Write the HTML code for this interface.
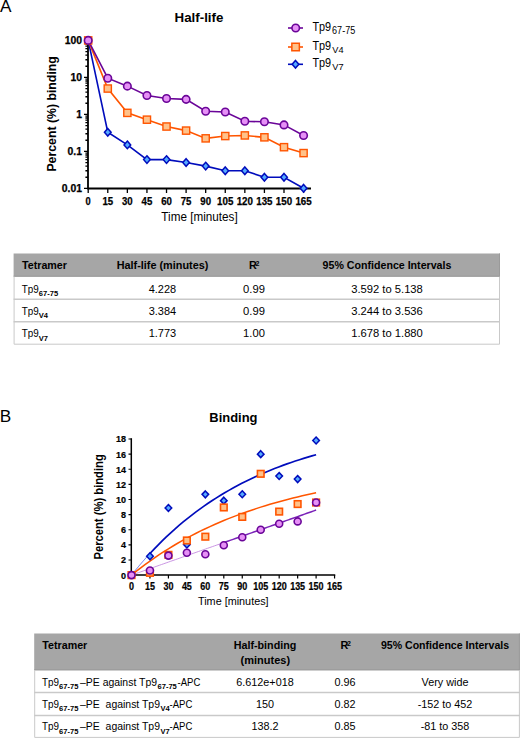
<!DOCTYPE html>
<html><head><meta charset="utf-8"><style>html,body{margin:0;padding:0;background:#fff;width:520px;height:738px;overflow:hidden}svg{display:block}text{font-family:"Liberation Sans", sans-serif}</style></head>
<body><svg width="520" height="738" viewBox="0 0 520 738">
<text x="0" y="12.3" font-size="17.2" text-anchor="start" fill="#000" >A</text>
<text x="-0.3" y="422.1" font-size="17.2" text-anchor="start" fill="#000" >B</text>
<text x="199" y="22.3" font-size="13.3" font-weight="bold" text-anchor="middle" fill="#000" >Half-life</text>
<text transform="translate(56.2 113.9) rotate(-90)" font-size="12.6" font-weight="bold" text-anchor="middle" textLength="115.4" lengthAdjust="spacingAndGlyphs">Percent (%) binding</text>
<path d="M88.0 38.5V188.5H311" fill="none" stroke="#000" stroke-width="1.8"/>
<path d="M88.20 188.5v4.5M107.78 188.5v4.5M127.36 188.5v4.5M146.94 188.5v4.5M166.52 188.5v4.5M186.10 188.5v4.5M205.68 188.5v4.5M225.26 188.5v4.5M244.84 188.5v4.5M264.42 188.5v4.5M284.00 188.5v4.5M303.58 188.5v4.5M88.0 188.40h-4M88.0 177.26h-2.6M88.0 170.75h-2.6M88.0 166.12h-2.6M88.0 162.54h-2.6M88.0 159.61h-2.6M88.0 157.13h-2.6M88.0 154.99h-2.6M88.0 153.09h-2.6M88.0 151.40h-4M88.0 140.26h-2.6M88.0 133.75h-2.6M88.0 129.12h-2.6M88.0 125.54h-2.6M88.0 122.61h-2.6M88.0 120.13h-2.6M88.0 117.99h-2.6M88.0 116.09h-2.6M88.0 114.40h-4M88.0 103.26h-2.6M88.0 96.75h-2.6M88.0 92.12h-2.6M88.0 88.54h-2.6M88.0 85.61h-2.6M88.0 83.13h-2.6M88.0 80.99h-2.6M88.0 79.09h-2.6M88.0 77.40h-4M88.0 66.26h-2.6M88.0 59.75h-2.6M88.0 55.12h-2.6M88.0 51.54h-2.6M88.0 48.61h-2.6M88.0 46.13h-2.6M88.0 43.99h-2.6M88.0 42.09h-2.6M88.0 40.40h-4" stroke="#000" stroke-width="1.3" fill="none"/>
<text x="82.0" y="44.1" font-size="10.4" font-weight="bold" text-anchor="end" fill="#000" stroke="#000" stroke-width="0.25">100</text>
<text x="82.0" y="81.10000000000001" font-size="10.4" font-weight="bold" text-anchor="end" fill="#000" stroke="#000" stroke-width="0.25">10</text>
<text x="82.0" y="118.10000000000001" font-size="10.4" font-weight="bold" text-anchor="end" fill="#000" stroke="#000" stroke-width="0.25">1</text>
<text x="82.0" y="155.1" font-size="10.4" font-weight="bold" text-anchor="end" fill="#000" stroke="#000" stroke-width="0.25">0.1</text>
<text x="82.0" y="192.1" font-size="10.4" font-weight="bold" text-anchor="end" fill="#000" stroke="#000" stroke-width="0.25">0.01</text>
<text x="88.20" y="204.6" font-size="10.4" font-weight="bold" text-anchor="middle" textLength="5.159999999999999" lengthAdjust="spacingAndGlyphs" fill="#000" stroke="#000" stroke-width="0.25">0</text>
<text x="107.78" y="204.6" font-size="10.4" font-weight="bold" text-anchor="middle" textLength="10.719999999999999" lengthAdjust="spacingAndGlyphs" fill="#000" stroke="#000" stroke-width="0.25">15</text>
<text x="127.36" y="204.6" font-size="10.4" font-weight="bold" text-anchor="middle" textLength="10.719999999999999" lengthAdjust="spacingAndGlyphs" fill="#000" stroke="#000" stroke-width="0.25">30</text>
<text x="146.94" y="204.6" font-size="10.4" font-weight="bold" text-anchor="middle" textLength="10.719999999999999" lengthAdjust="spacingAndGlyphs" fill="#000" stroke="#000" stroke-width="0.25">45</text>
<text x="166.52" y="204.6" font-size="10.4" font-weight="bold" text-anchor="middle" textLength="10.719999999999999" lengthAdjust="spacingAndGlyphs" fill="#000" stroke="#000" stroke-width="0.25">60</text>
<text x="186.10" y="204.6" font-size="10.4" font-weight="bold" text-anchor="middle" textLength="10.719999999999999" lengthAdjust="spacingAndGlyphs" fill="#000" stroke="#000" stroke-width="0.25">75</text>
<text x="205.68" y="204.6" font-size="10.4" font-weight="bold" text-anchor="middle" textLength="10.719999999999999" lengthAdjust="spacingAndGlyphs" fill="#000" stroke="#000" stroke-width="0.25">90</text>
<text x="225.26" y="204.6" font-size="10.4" font-weight="bold" text-anchor="middle" textLength="16.28" lengthAdjust="spacingAndGlyphs" fill="#000" stroke="#000" stroke-width="0.25">105</text>
<text x="244.84" y="204.6" font-size="10.4" font-weight="bold" text-anchor="middle" textLength="16.28" lengthAdjust="spacingAndGlyphs" fill="#000" stroke="#000" stroke-width="0.25">120</text>
<text x="264.42" y="204.6" font-size="10.4" font-weight="bold" text-anchor="middle" textLength="16.28" lengthAdjust="spacingAndGlyphs" fill="#000" stroke="#000" stroke-width="0.25">135</text>
<text x="284.00" y="204.6" font-size="10.4" font-weight="bold" text-anchor="middle" textLength="16.28" lengthAdjust="spacingAndGlyphs" fill="#000" stroke="#000" stroke-width="0.25">150</text>
<text x="303.58" y="204.6" font-size="10.4" font-weight="bold" text-anchor="middle" textLength="16.28" lengthAdjust="spacingAndGlyphs" fill="#000" stroke="#000" stroke-width="0.25">165</text>
<text x="199.5" y="220.5" font-size="12.3" text-anchor="middle" textLength="76.3" lengthAdjust="spacingAndGlyphs" fill="#000" >Time [minutes]</text>
<polyline points="88.20,40.40 107.78,132.21 127.36,144.88 146.94,159.61 166.52,159.61 186.10,162.54 205.68,166.12 225.26,170.75 244.84,170.75 264.42,177.26 284.00,177.26 303.58,188.24" fill="none" stroke="#000cbc" stroke-width="1.6"/>
<polyline points="88.20,40.40 107.78,88.54 127.36,112.87 146.94,119.68 166.52,126.53 186.10,130.60 205.68,138.37 225.26,136.05 244.84,135.44 264.42,137.33 284.00,147.18 303.58,153.09" fill="none" stroke="#ff5500" stroke-width="1.6"/>
<polyline points="88.20,40.40 107.78,78.22 127.36,86.15 146.94,95.46 166.52,98.44 186.10,99.36 205.68,111.20 225.26,112.02 244.84,121.32 264.42,121.82 284.00,124.91 303.58,135.44" fill="none" stroke="#6a0598" stroke-width="1.6"/>
<path d="M107.78 128.41L111.12 132.21L107.78 136.01L104.44 132.21Z" fill="#55aaff" stroke="#000cbc" stroke-width="1.5"/>
<path d="M127.36 141.08L130.70 144.88L127.36 148.68L124.02 144.88Z" fill="#55aaff" stroke="#000cbc" stroke-width="1.5"/>
<path d="M146.94 155.81L150.28 159.61L146.94 163.41L143.60 159.61Z" fill="#55aaff" stroke="#000cbc" stroke-width="1.5"/>
<path d="M166.52 155.81L169.86 159.61L166.52 163.41L163.18 159.61Z" fill="#55aaff" stroke="#000cbc" stroke-width="1.5"/>
<path d="M186.10 158.74L189.44 162.54L186.10 166.34L182.76 162.54Z" fill="#55aaff" stroke="#000cbc" stroke-width="1.5"/>
<path d="M205.68 162.32L209.02 166.12L205.68 169.92L202.34 166.12Z" fill="#55aaff" stroke="#000cbc" stroke-width="1.5"/>
<path d="M225.26 166.95L228.60 170.75L225.26 174.55L221.92 170.75Z" fill="#55aaff" stroke="#000cbc" stroke-width="1.5"/>
<path d="M244.84 166.95L248.18 170.75L244.84 174.55L241.50 170.75Z" fill="#55aaff" stroke="#000cbc" stroke-width="1.5"/>
<path d="M264.42 173.46L267.76 177.26L264.42 181.06L261.08 177.26Z" fill="#55aaff" stroke="#000cbc" stroke-width="1.5"/>
<path d="M284.00 173.46L287.34 177.26L284.00 181.06L280.66 177.26Z" fill="#55aaff" stroke="#000cbc" stroke-width="1.5"/>
<path d="M303.58 184.44L306.92 188.24L303.58 192.04L300.24 188.24Z" fill="#55aaff" stroke="#000cbc" stroke-width="1.5"/>
<rect x="84.60" y="36.80" width="7.2" height="7.2" fill="#ffc28a" stroke="#ff5500" stroke-width="1.4"/>
<rect x="104.18" y="84.94" width="7.2" height="7.2" fill="#ffc28a" stroke="#ff5500" stroke-width="1.4"/>
<rect x="123.76" y="109.27" width="7.2" height="7.2" fill="#ffc28a" stroke="#ff5500" stroke-width="1.4"/>
<rect x="143.34" y="116.08" width="7.2" height="7.2" fill="#ffc28a" stroke="#ff5500" stroke-width="1.4"/>
<rect x="162.92" y="122.93" width="7.2" height="7.2" fill="#ffc28a" stroke="#ff5500" stroke-width="1.4"/>
<rect x="182.50" y="127.00" width="7.2" height="7.2" fill="#ffc28a" stroke="#ff5500" stroke-width="1.4"/>
<rect x="202.08" y="134.77" width="7.2" height="7.2" fill="#ffc28a" stroke="#ff5500" stroke-width="1.4"/>
<rect x="221.66" y="132.45" width="7.2" height="7.2" fill="#ffc28a" stroke="#ff5500" stroke-width="1.4"/>
<rect x="241.24" y="131.84" width="7.2" height="7.2" fill="#ffc28a" stroke="#ff5500" stroke-width="1.4"/>
<rect x="260.82" y="133.73" width="7.2" height="7.2" fill="#ffc28a" stroke="#ff5500" stroke-width="1.4"/>
<rect x="280.40" y="143.58" width="7.2" height="7.2" fill="#ffc28a" stroke="#ff5500" stroke-width="1.4"/>
<rect x="299.98" y="149.49" width="7.2" height="7.2" fill="#ffc28a" stroke="#ff5500" stroke-width="1.4"/>
<circle cx="88.20" cy="40.40" r="3.75" fill="#e690f6" stroke="#6a0598" stroke-width="1.6"/>
<circle cx="107.78" cy="78.22" r="3.75" fill="#e690f6" stroke="#6a0598" stroke-width="1.6"/>
<circle cx="127.36" cy="86.15" r="3.75" fill="#e690f6" stroke="#6a0598" stroke-width="1.6"/>
<circle cx="146.94" cy="95.46" r="3.75" fill="#e690f6" stroke="#6a0598" stroke-width="1.6"/>
<circle cx="166.52" cy="98.44" r="3.75" fill="#e690f6" stroke="#6a0598" stroke-width="1.6"/>
<circle cx="186.10" cy="99.36" r="3.75" fill="#e690f6" stroke="#6a0598" stroke-width="1.6"/>
<circle cx="205.68" cy="111.20" r="3.75" fill="#e690f6" stroke="#6a0598" stroke-width="1.6"/>
<circle cx="225.26" cy="112.02" r="3.75" fill="#e690f6" stroke="#6a0598" stroke-width="1.6"/>
<circle cx="244.84" cy="121.32" r="3.75" fill="#e690f6" stroke="#6a0598" stroke-width="1.6"/>
<circle cx="264.42" cy="121.82" r="3.75" fill="#e690f6" stroke="#6a0598" stroke-width="1.6"/>
<circle cx="284.00" cy="124.91" r="3.75" fill="#e690f6" stroke="#6a0598" stroke-width="1.6"/>
<circle cx="303.58" cy="135.44" r="3.75" fill="#e690f6" stroke="#6a0598" stroke-width="1.6"/>
<path d="M288 28H303" stroke="#6a0598" stroke-width="1.6"/>
<circle cx="295.70" cy="28.00" r="3.75" fill="#e690f6" stroke="#6a0598" stroke-width="1.6"/>
<path d="M288 47H303" stroke="#ff5500" stroke-width="1.6"/>
<rect x="291.85" y="43.25" width="7.5" height="7.5" fill="#ffc28a" stroke="#ff5500" stroke-width="1.5"/>
<path d="M288 64.3H303" stroke="#000cbc" stroke-width="1.6"/>
<path d="M295.50 60.50L298.84 64.30L295.50 68.10L292.16 64.30Z" fill="#55aaff" stroke="#000cbc" stroke-width="1.5"/>
<text x="312.4" y="30.8" font-size="12" text-anchor="start" textLength="18.7" lengthAdjust="spacingAndGlyphs" fill="#000" >Tp9</text>
<text x="332.1" y="33.7" font-size="10" text-anchor="start" textLength="23.1" lengthAdjust="spacingAndGlyphs" fill="#000" >67-75</text>
<text x="312.4" y="49.6" font-size="12" text-anchor="start" textLength="18.7" lengthAdjust="spacingAndGlyphs" fill="#000" >Tp9</text>
<text x="332.3" y="52.5" font-size="9.6" text-anchor="start" textLength="11.3" lengthAdjust="spacingAndGlyphs" fill="#000" >V4</text>
<text x="312.4" y="67.0" font-size="12" text-anchor="start" textLength="18.7" lengthAdjust="spacingAndGlyphs" fill="#000" >Tp9</text>
<text x="332.3" y="69.9" font-size="9.6" text-anchor="start" textLength="11.3" lengthAdjust="spacingAndGlyphs" fill="#000" >V7</text>
<rect x="13.6" y="253.5" width="486.4" height="23.2" fill="#a6a6a6"/>
<path d="M13.6 276.2H500M499.5 253.5V276.7" stroke="#9a9a9a" stroke-width="1"/>
<path d="M13.6 299.2H500" stroke="#c9c9c9" stroke-width="1.5"/>
<path d="M13.6 321.7H500" stroke="#c9c9c9" stroke-width="1.5"/>
<path d="M14.1 276.7V344.2H499.5V276.7" fill="none" stroke="#c9c9c9" stroke-width="1"/>
<text x="22" y="268.8" font-size="10.8" font-weight="bold" text-anchor="start" textLength="45" lengthAdjust="spacingAndGlyphs" fill="#000" >Tetramer</text>
<text x="162.5" y="268.8" font-size="10.8" font-weight="bold" text-anchor="middle" textLength="91.7" lengthAdjust="spacingAndGlyphs" fill="#000" >Half-life (minutes)</text>
<text x="249" y="268.8" font-size="10.8" font-weight="bold" text-anchor="start" fill="#000" >R</text>
<text x="255.6" y="265.6" font-size="7" font-weight="bold" text-anchor="start" fill="#000" >2</text>
<text x="387" y="268.8" font-size="10.8" font-weight="bold" text-anchor="middle" textLength="128.8" lengthAdjust="spacingAndGlyphs" fill="#000" >95% Confidence Intervals</text>
<text x="21.8" y="292.6" font-size="10.6" text-anchor="start" textLength="17" lengthAdjust="spacingAndGlyphs" fill="#000" >Tp9</text>
<text x="38.8" y="295.8" font-size="7.2" font-weight="bold" text-anchor="start" textLength="19.3" lengthAdjust="spacingAndGlyphs" fill="#000" >67-75</text>
<text x="162.4" y="292.6" font-size="10.8" text-anchor="middle" textLength="27.5" lengthAdjust="spacingAndGlyphs" fill="#000" >4.228</text>
<text x="254" y="292.6" font-size="10.8" text-anchor="middle" textLength="21.8" lengthAdjust="spacingAndGlyphs" fill="#000" >0.99</text>
<text x="387" y="292.6" font-size="10.8" text-anchor="middle" textLength="71.7" lengthAdjust="spacingAndGlyphs" fill="#000" >3.592 to 5.138</text>
<text x="21.8" y="314.9" font-size="10.6" text-anchor="start" textLength="17" lengthAdjust="spacingAndGlyphs" fill="#000" >Tp9</text>
<text x="38.8" y="318.09999999999997" font-size="7.2" font-weight="bold" text-anchor="start" textLength="9.2" lengthAdjust="spacingAndGlyphs" fill="#000" >V4</text>
<text x="162.4" y="314.9" font-size="10.8" text-anchor="middle" textLength="27.5" lengthAdjust="spacingAndGlyphs" fill="#000" >3.384</text>
<text x="254" y="314.9" font-size="10.8" text-anchor="middle" textLength="21.8" lengthAdjust="spacingAndGlyphs" fill="#000" >0.99</text>
<text x="387" y="314.9" font-size="10.8" text-anchor="middle" textLength="71.7" lengthAdjust="spacingAndGlyphs" fill="#000" >3.244 to 3.536</text>
<text x="21.8" y="337.4" font-size="10.6" text-anchor="start" textLength="17" lengthAdjust="spacingAndGlyphs" fill="#000" >Tp9</text>
<text x="38.8" y="340.59999999999997" font-size="7.2" font-weight="bold" text-anchor="start" textLength="9.2" lengthAdjust="spacingAndGlyphs" fill="#000" >V7</text>
<text x="162.4" y="337.4" font-size="10.8" text-anchor="middle" textLength="27.5" lengthAdjust="spacingAndGlyphs" fill="#000" >1.773</text>
<text x="254" y="337.4" font-size="10.8" text-anchor="middle" textLength="21.8" lengthAdjust="spacingAndGlyphs" fill="#000" >1.00</text>
<text x="387" y="337.4" font-size="10.8" text-anchor="middle" textLength="71.7" lengthAdjust="spacingAndGlyphs" fill="#000" >1.678 to 1.880</text>
<text x="233.4" y="422.0" font-size="13" font-weight="bold" text-anchor="middle" textLength="48.2" lengthAdjust="spacingAndGlyphs" fill="#000" >Binding</text>
<text transform="translate(103.0 506.9) rotate(-90)" font-size="12" font-weight="bold" text-anchor="middle" textLength="105.4" lengthAdjust="spacingAndGlyphs">Percent (%) binding</text>
<path d="M131.3 438.32V575.1H335.26" fill="none" stroke="#000" stroke-width="1.5"/>
<path d="M131.50 575.1v3.5M149.96 575.1v3.5M168.42 575.1v3.5M186.88 575.1v3.5M205.34 575.1v3.5M223.80 575.1v3.5M242.26 575.1v3.5M260.72 575.1v3.5M279.18 575.1v3.5M297.64 575.1v3.5M316.10 575.1v3.5M334.56 575.1v3.5M131.5 575.10h-3M131.5 559.98h-3M131.5 544.86h-3M131.5 529.74h-3M131.5 514.62h-3M131.5 499.50h-3M131.5 484.38h-3M131.5 469.26h-3M131.5 454.14h-3M131.5 439.02h-3" stroke="#000" stroke-width="1.2" fill="none"/>
<text x="125.9" y="578.55" font-size="9.8" font-weight="bold" text-anchor="end" textLength="5.0" lengthAdjust="spacingAndGlyphs" fill="#000" stroke="#000" stroke-width="0.22">0</text>
<text x="125.9" y="563.43" font-size="9.8" font-weight="bold" text-anchor="end" textLength="5.0" lengthAdjust="spacingAndGlyphs" fill="#000" stroke="#000" stroke-width="0.22">2</text>
<text x="125.9" y="548.31" font-size="9.8" font-weight="bold" text-anchor="end" textLength="5.0" lengthAdjust="spacingAndGlyphs" fill="#000" stroke="#000" stroke-width="0.22">4</text>
<text x="125.9" y="533.19" font-size="9.8" font-weight="bold" text-anchor="end" textLength="5.0" lengthAdjust="spacingAndGlyphs" fill="#000" stroke="#000" stroke-width="0.22">6</text>
<text x="125.9" y="518.07" font-size="9.8" font-weight="bold" text-anchor="end" textLength="5.0" lengthAdjust="spacingAndGlyphs" fill="#000" stroke="#000" stroke-width="0.22">8</text>
<text x="125.9" y="502.95" font-size="9.8" font-weight="bold" text-anchor="end" textLength="10.0" lengthAdjust="spacingAndGlyphs" fill="#000" stroke="#000" stroke-width="0.22">10</text>
<text x="125.9" y="487.83" font-size="9.8" font-weight="bold" text-anchor="end" textLength="10.0" lengthAdjust="spacingAndGlyphs" fill="#000" stroke="#000" stroke-width="0.22">12</text>
<text x="125.9" y="472.71" font-size="9.8" font-weight="bold" text-anchor="end" textLength="10.0" lengthAdjust="spacingAndGlyphs" fill="#000" stroke="#000" stroke-width="0.22">14</text>
<text x="125.9" y="457.59" font-size="9.8" font-weight="bold" text-anchor="end" textLength="10.0" lengthAdjust="spacingAndGlyphs" fill="#000" stroke="#000" stroke-width="0.22">16</text>
<text x="125.9" y="442.47" font-size="9.8" font-weight="bold" text-anchor="end" textLength="10.0" lengthAdjust="spacingAndGlyphs" fill="#000" stroke="#000" stroke-width="0.22">18</text>
<text x="131.50" y="590.3" font-size="10" font-weight="bold" text-anchor="middle" textLength="5.0" lengthAdjust="spacingAndGlyphs" fill="#000" stroke="#000" stroke-width="0.22">0</text>
<text x="149.96" y="590.3" font-size="10" font-weight="bold" text-anchor="middle" textLength="10.0" lengthAdjust="spacingAndGlyphs" fill="#000" stroke="#000" stroke-width="0.22">15</text>
<text x="168.42" y="590.3" font-size="10" font-weight="bold" text-anchor="middle" textLength="10.0" lengthAdjust="spacingAndGlyphs" fill="#000" stroke="#000" stroke-width="0.22">30</text>
<text x="186.88" y="590.3" font-size="10" font-weight="bold" text-anchor="middle" textLength="10.0" lengthAdjust="spacingAndGlyphs" fill="#000" stroke="#000" stroke-width="0.22">45</text>
<text x="205.34" y="590.3" font-size="10" font-weight="bold" text-anchor="middle" textLength="10.0" lengthAdjust="spacingAndGlyphs" fill="#000" stroke="#000" stroke-width="0.22">60</text>
<text x="223.80" y="590.3" font-size="10" font-weight="bold" text-anchor="middle" textLength="10.0" lengthAdjust="spacingAndGlyphs" fill="#000" stroke="#000" stroke-width="0.22">75</text>
<text x="242.26" y="590.3" font-size="10" font-weight="bold" text-anchor="middle" textLength="10.0" lengthAdjust="spacingAndGlyphs" fill="#000" stroke="#000" stroke-width="0.22">90</text>
<text x="260.72" y="590.3" font-size="10" font-weight="bold" text-anchor="middle" textLength="15.0" lengthAdjust="spacingAndGlyphs" fill="#000" stroke="#000" stroke-width="0.22">105</text>
<text x="279.18" y="590.3" font-size="10" font-weight="bold" text-anchor="middle" textLength="15.0" lengthAdjust="spacingAndGlyphs" fill="#000" stroke="#000" stroke-width="0.22">120</text>
<text x="297.64" y="590.3" font-size="10" font-weight="bold" text-anchor="middle" textLength="15.0" lengthAdjust="spacingAndGlyphs" fill="#000" stroke="#000" stroke-width="0.22">135</text>
<text x="316.10" y="590.3" font-size="10" font-weight="bold" text-anchor="middle" textLength="15.0" lengthAdjust="spacingAndGlyphs" fill="#000" stroke="#000" stroke-width="0.22">150</text>
<text x="334.56" y="590.3" font-size="10" font-weight="bold" text-anchor="middle" textLength="15.0" lengthAdjust="spacingAndGlyphs" fill="#000" stroke="#000" stroke-width="0.22">165</text>
<text x="233.3" y="604.7" font-size="11.3" text-anchor="middle" textLength="70.6" lengthAdjust="spacingAndGlyphs" fill="#000" >Time [minutes]</text>
<polyline points="131.50,575.10 131.96,574.52 132.42,573.94 132.88,573.37 133.35,572.79 133.81,572.22 134.27,571.65 134.73,571.08 135.19,570.52 135.65,569.96 136.12,569.40 136.58,568.84 137.04,568.28 137.50,567.73 137.96,567.17 138.42,566.62 138.88,566.07 139.35,565.53 139.81,564.98 140.27,564.44 140.73,563.90 141.19,563.36 141.65,562.83 142.11,562.29 142.58,561.76 143.04,561.23 143.50,560.70 143.96,560.18 144.42,559.65 144.88,559.13 145.34,558.61 145.81,558.09 146.27,557.57 146.73,557.06 147.19,556.55 147.65,556.04 148.11,555.53 148.58,555.02 149.04,554.52 149.50,554.01 149.96,553.51" fill="none" stroke="#3a4ee0" stroke-width="0.8"/>
<polyline points="149.96,553.51 154.11,549.09 158.27,544.81 162.42,540.67 166.57,536.67 170.73,532.80 174.88,529.06 179.03,525.44 183.19,521.95 187.34,518.57 191.50,515.30 195.65,512.14 199.80,509.09 203.96,506.14 208.11,503.28 212.26,500.52 216.42,497.85 220.57,495.27 224.72,492.78 228.88,490.37 233.03,488.04 237.18,485.78 241.34,483.60 245.49,481.50 249.64,479.46 253.80,477.49 257.95,475.59 262.10,473.75 266.26,471.97 270.41,470.25 274.56,468.58 278.72,466.97 282.87,465.42 287.03,463.92 291.18,462.46 295.33,461.06 299.49,459.70 303.64,458.39 307.79,457.12 311.95,455.89 316.10,454.70" fill="none" stroke="#000cbc" stroke-width="1.7"/>
<polyline points="131.50,575.10 136.12,571.41 140.73,567.85 145.34,564.40 149.96,561.07 154.57,557.84 159.19,554.73 163.81,551.72 168.42,548.80 173.03,545.99 177.65,543.27 182.26,540.63 186.88,538.09 191.50,535.63 196.11,533.25 200.72,530.95 205.34,528.73 209.95,526.58 214.57,524.50 219.19,522.49 223.80,520.55 228.42,518.67 233.03,516.86 237.65,515.10 242.26,513.41 246.88,511.77 251.49,510.18 256.11,508.65 260.72,507.16 265.34,505.73 269.95,504.34 274.56,503.00 279.18,501.71 283.80,500.46 288.41,499.24 293.02,498.07 297.64,496.94 302.25,495.85 306.87,494.79 311.49,493.77 316.10,492.78" fill="none" stroke="#ff5500" stroke-width="1.5"/>
<polyline points="131.50,575.10 133.81,574.29 136.12,573.47 138.42,572.66 140.73,571.85 143.04,571.04 145.34,570.22 147.65,569.41 149.96,568.60 152.27,567.79 154.57,566.97 156.88,566.16 159.19,565.35 161.50,564.53 163.81,563.72 166.11,562.91 168.42,562.10 170.73,561.28 173.03,560.47 175.34,559.66 177.65,558.85 179.96,558.03 182.26,557.22 184.57,556.41 186.88,555.60 189.19,554.78 191.50,553.97 193.80,553.16 196.11,552.34 198.42,551.53 200.72,550.72 203.03,549.91 205.34,549.09 207.65,548.28 209.95,547.47 212.26,546.66 214.57,545.84 216.88,545.03 219.19,544.22 221.49,543.40 223.80,542.59" fill="none" stroke="#c48ae0" stroke-width="0.9"/>
<polyline points="223.80,542.59 226.11,541.78 228.42,540.97 230.72,540.15 233.03,539.34 235.34,538.53 237.65,537.72 239.95,536.90 242.26,536.09 244.57,535.28 246.88,534.47 249.18,533.65 251.49,532.84 253.80,532.03 256.11,531.21 258.41,530.40 260.72,529.59 263.03,528.78 265.34,527.96 267.64,527.15 269.95,526.34 272.26,525.53 274.56,524.71 276.87,523.90 279.18,523.09 281.49,522.27 283.80,521.46 286.10,520.65 288.41,519.84 290.72,519.02 293.02,518.21 295.33,517.40 297.64,516.59 299.95,515.77 302.25,514.96 304.56,514.15 306.87,513.33 309.18,512.52 311.49,511.71 313.79,510.90 316.10,510.08" fill="none" stroke="#7a22b8" stroke-width="1.5"/>
<path d="M149.96 552.75L153.26 556.20L149.96 559.65L146.66 556.20Z" fill="#55aaff" stroke="#000cbc" stroke-width="1.5"/>
<path d="M168.42 504.52L171.72 507.97L168.42 511.42L165.12 507.97Z" fill="#55aaff" stroke="#000cbc" stroke-width="1.5"/>
<path d="M186.88 541.03L190.18 544.48L186.88 547.93L183.58 544.48Z" fill="#55aaff" stroke="#000cbc" stroke-width="1.5"/>
<path d="M205.34 490.91L208.64 494.36L205.34 497.81L202.04 494.36Z" fill="#55aaff" stroke="#000cbc" stroke-width="1.5"/>
<path d="M223.80 497.18L227.10 500.63L223.80 504.08L220.50 500.63Z" fill="#55aaff" stroke="#000cbc" stroke-width="1.5"/>
<path d="M242.26 490.76L245.56 494.21L242.26 497.66L238.96 494.21Z" fill="#55aaff" stroke="#000cbc" stroke-width="1.5"/>
<path d="M260.72 450.69L264.02 454.14L260.72 457.59L257.42 454.14Z" fill="#55aaff" stroke="#000cbc" stroke-width="1.5"/>
<path d="M279.18 472.61L282.48 476.06L279.18 479.51L275.88 476.06Z" fill="#55aaff" stroke="#000cbc" stroke-width="1.5"/>
<path d="M297.64 475.64L300.94 479.09L297.64 482.54L294.34 479.09Z" fill="#55aaff" stroke="#000cbc" stroke-width="1.5"/>
<path d="M316.10 437.08L319.40 440.53L316.10 443.98L312.80 440.53Z" fill="#55aaff" stroke="#000cbc" stroke-width="1.5"/>
<rect x="128.20" y="571.80" width="6.6" height="6.6" fill="#ffc28a" stroke="#ff5500" stroke-width="1.6"/>
<rect x="146.66" y="569.53" width="6.6" height="6.6" fill="#ffc28a" stroke="#ff5500" stroke-width="1.6"/>
<rect x="165.12" y="551.54" width="6.6" height="6.6" fill="#ffc28a" stroke="#ff5500" stroke-width="1.6"/>
<rect x="183.58" y="537.18" width="6.6" height="6.6" fill="#ffc28a" stroke="#ff5500" stroke-width="1.6"/>
<rect x="202.04" y="533.40" width="6.6" height="6.6" fill="#ffc28a" stroke="#ff5500" stroke-width="1.6"/>
<rect x="220.50" y="504.14" width="6.6" height="6.6" fill="#ffc28a" stroke="#ff5500" stroke-width="1.6"/>
<rect x="238.96" y="513.59" width="6.6" height="6.6" fill="#ffc28a" stroke="#ff5500" stroke-width="1.6"/>
<rect x="257.42" y="470.50" width="6.6" height="6.6" fill="#ffc28a" stroke="#ff5500" stroke-width="1.6"/>
<rect x="275.88" y="508.30" width="6.6" height="6.6" fill="#ffc28a" stroke="#ff5500" stroke-width="1.6"/>
<rect x="294.34" y="500.74" width="6.6" height="6.6" fill="#ffc28a" stroke="#ff5500" stroke-width="1.6"/>
<rect x="312.80" y="499.22" width="6.6" height="6.6" fill="#ffc28a" stroke="#ff5500" stroke-width="1.6"/>
<circle cx="131.50" cy="575.10" r="3.5" fill="#e690f6" stroke="#6a0598" stroke-width="1.6"/>
<circle cx="149.96" cy="570.56" r="3.5" fill="#e690f6" stroke="#6a0598" stroke-width="1.6"/>
<circle cx="168.42" cy="555.60" r="3.5" fill="#e690f6" stroke="#6a0598" stroke-width="1.6"/>
<circle cx="186.88" cy="552.72" r="3.5" fill="#e690f6" stroke="#6a0598" stroke-width="1.6"/>
<circle cx="205.34" cy="554.31" r="3.5" fill="#e690f6" stroke="#6a0598" stroke-width="1.6"/>
<circle cx="223.80" cy="545.24" r="3.5" fill="#e690f6" stroke="#6a0598" stroke-width="1.6"/>
<circle cx="242.26" cy="537.30" r="3.5" fill="#e690f6" stroke="#6a0598" stroke-width="1.6"/>
<circle cx="260.72" cy="529.74" r="3.5" fill="#e690f6" stroke="#6a0598" stroke-width="1.6"/>
<circle cx="279.18" cy="523.69" r="3.5" fill="#e690f6" stroke="#6a0598" stroke-width="1.6"/>
<circle cx="297.64" cy="521.42" r="3.5" fill="#e690f6" stroke="#6a0598" stroke-width="1.6"/>
<circle cx="316.10" cy="502.52" r="3.5" fill="#e690f6" stroke="#6a0598" stroke-width="1.6"/>
<rect x="34.2" y="633.5" width="485.7" height="36.8" fill="#a6a6a6"/>
<path d="M34.2 669.8H519.9M519.4 633.5V670.3" stroke="#9a9a9a" stroke-width="1"/>
<path d="M34.2 692.5H519.9" stroke="#c9c9c9" stroke-width="1.5"/>
<path d="M34.2 715.5H519.9" stroke="#c9c9c9" stroke-width="1.5"/>
<path d="M34.7 670.3V737.4H519.4V670.3" fill="none" stroke="#c9c9c9" stroke-width="1"/>
<text x="42.3" y="648.8" font-size="10.8" font-weight="bold" text-anchor="start" textLength="45" lengthAdjust="spacingAndGlyphs" fill="#000" >Tetramer</text>
<text x="265" y="649" font-size="10.8" font-weight="bold" text-anchor="middle" textLength="62.6" lengthAdjust="spacingAndGlyphs" fill="#000" >Half-binding</text>
<text x="265.3" y="663.6" font-size="10.8" font-weight="bold" text-anchor="middle" textLength="49.5" lengthAdjust="spacingAndGlyphs" fill="#000" >(minutes)</text>
<text x="340.5" y="649" font-size="10.8" font-weight="bold" text-anchor="start" fill="#000" >R</text>
<text x="347.1" y="645.8" font-size="7" font-weight="bold" text-anchor="start" fill="#000" >2</text>
<text x="445" y="649" font-size="10.8" font-weight="bold" text-anchor="middle" textLength="128.2" lengthAdjust="spacingAndGlyphs" fill="#000" >95% Confidence Intervals</text>
<text x="42.1" y="685.5" font-size="10.6" text-anchor="start" textLength="17" lengthAdjust="spacingAndGlyphs" fill="#000" >Tp9</text>
<text x="59.1" y="688.7" font-size="7.2" font-weight="bold" text-anchor="start" textLength="19.3" lengthAdjust="spacingAndGlyphs" fill="#000" >67-75</text>
<text x="80" y="685.5" font-size="10.6" text-anchor="start" textLength="77" lengthAdjust="spacingAndGlyphs" fill="#000" >&#8211;PE against Tp9</text>
<text x="157.5" y="688.7" font-size="7.2" font-weight="bold" text-anchor="start" textLength="19.3" lengthAdjust="spacingAndGlyphs" fill="#000" >67-75</text>
<text x="177.5" y="685.5" font-size="10.6" text-anchor="start" textLength="22.8" lengthAdjust="spacingAndGlyphs" fill="#000" >-APC</text>
<text x="265" y="685.5" font-size="10.8" text-anchor="middle" fill="#000" >6.612e+018</text>
<text x="345" y="685.5" font-size="10.8" text-anchor="middle" fill="#000" >0.96</text>
<text x="445" y="685.5" font-size="10.8" text-anchor="middle" fill="#000" >Very wide</text>
<text x="42.1" y="707.8" font-size="10.6" text-anchor="start" textLength="17" lengthAdjust="spacingAndGlyphs" fill="#000" >Tp9</text>
<text x="59.1" y="711.0" font-size="7.2" font-weight="bold" text-anchor="start" textLength="19.3" lengthAdjust="spacingAndGlyphs" fill="#000" >67-75</text>
<text x="80" y="707.8" font-size="10.6" text-anchor="start" textLength="80" lengthAdjust="spacingAndGlyphs" fill="#000" >&#8211;PE&#160; against Tp9</text>
<text x="160.5" y="711.0" font-size="7.2" font-weight="bold" text-anchor="start" textLength="9.2" lengthAdjust="spacingAndGlyphs" fill="#000" >V4</text>
<text x="169.5" y="707.8" font-size="10.6" text-anchor="start" textLength="22.8" lengthAdjust="spacingAndGlyphs" fill="#000" >-APC</text>
<text x="265" y="707.8" font-size="10.8" text-anchor="middle" fill="#000" >150</text>
<text x="345" y="707.8" font-size="10.8" text-anchor="middle" fill="#000" >0.82</text>
<text x="445" y="707.8" font-size="10.8" text-anchor="middle" fill="#000" >-152 to 452</text>
<text x="42.1" y="730.4" font-size="10.6" text-anchor="start" textLength="17" lengthAdjust="spacingAndGlyphs" fill="#000" >Tp9</text>
<text x="59.1" y="733.6" font-size="7.2" font-weight="bold" text-anchor="start" textLength="19.3" lengthAdjust="spacingAndGlyphs" fill="#000" >67-75</text>
<text x="80" y="730.4" font-size="10.6" text-anchor="start" textLength="80" lengthAdjust="spacingAndGlyphs" fill="#000" >&#8211;PE&#160; against Tp9</text>
<text x="160.5" y="733.6" font-size="7.2" font-weight="bold" text-anchor="start" textLength="9.2" lengthAdjust="spacingAndGlyphs" fill="#000" >V7</text>
<text x="169.5" y="730.4" font-size="10.6" text-anchor="start" textLength="22.8" lengthAdjust="spacingAndGlyphs" fill="#000" >-APC</text>
<text x="265" y="730.4" font-size="10.8" text-anchor="middle" fill="#000" >138.2</text>
<text x="345" y="730.4" font-size="10.8" text-anchor="middle" fill="#000" >0.85</text>
<text x="445" y="730.4" font-size="10.8" text-anchor="middle" fill="#000" >-81 to 358</text>
</svg></body></html>
